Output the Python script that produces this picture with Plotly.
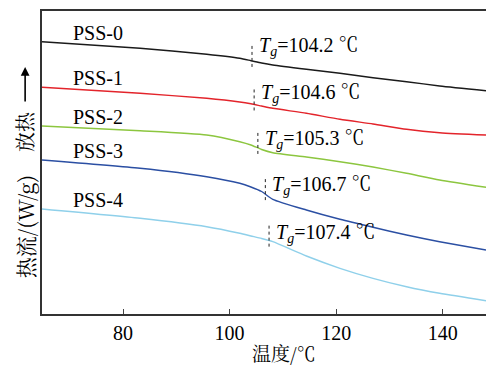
import numpy as np
import plotly.graph_objects as go

# Temperature grid (°C) shared by all DSC traces
temperature = [64.8, 83.2, 95.7, 101.9, 104.0, 106.0, 108.1, 114.4, 120.7, 126.9, 133.2, 139.4, 148.1]

# Heat flow (W/g, curves offset vertically for clarity)
pss0 = [2.723, 2.657, 2.597, 2.557, 2.533, 2.510, 2.490, 2.447, 2.407, 2.363, 2.323, 2.280, 2.233]
pss1 = [2.267, 2.207, 2.157, 2.120, 2.102, 2.080, 2.057, 2.007, 1.947, 1.900, 1.847, 1.813, 1.790]
pss2 = [1.880, 1.833, 1.790, 1.723, 1.690, 1.645, 1.613, 1.570, 1.523, 1.470, 1.407, 1.340, 1.267]
pss3 = [1.540, 1.457, 1.373, 1.307, 1.270, 1.225, 1.147, 1.040, 0.947, 0.867, 0.790, 0.723, 0.640]
pss4 = [1.050, 0.957, 0.873, 0.807, 0.780, 0.755, 0.723, 0.580, 0.457, 0.357, 0.273, 0.207, 0.133]

names = ["PSS-0", "PSS-1", "PSS-2", "PSS-3", "PSS-4"]
series = [pss0, pss1, pss2, pss3, pss4]
tg_values = [104.2, 104.6, 105.3, 106.7, 107.4]

colors = ["#1a1a1a", "#e3242b", "#8cc63f", "#2b4fa3", "#8fd0ea"]
tg_label_yshift = [14, 11, 8, 9, 7]   # px above the curve

x_ticks = [80, 100, 120, 140]
x_range = [64.8, 148.1]
y_range = [0, 3.03]

serif = "'Liberation Serif', 'Times New Roman', 'Noto Serif CJK SC', 'Noto Sans CJK SC', serif"
cjk = "'Noto Serif CJK SC', 'Noto Sans CJK SC', 'Liberation Serif', serif"

fig = go.Figure()
annotations = []
shapes = []

for name, ys, tg, col, dy in zip(names, series, tg_values, colors, tg_label_yshift):
    fig.add_trace(go.Scatter(
        x=temperature, y=ys, mode="lines", name=name,
        line=dict(color=col, width=1.4, shape="spline", smoothing=0.6),
        showlegend=False,
    ))
    # curve name above the left end
    annotations.append(dict(
        x=70.2, y=ys[0], xref="x", yref="y", text=name, showarrow=False,
        xanchor="left", yanchor="middle", yshift=9,
        font=dict(family=serif, size=20, color="black"),
    ))
    # glass transition marker
    y_tg = float(np.interp(tg, temperature, ys))
    shapes.append(dict(
        type="line", xref="x", yref="y", x0=tg, x1=tg,
        y0=y_tg - 0.06, y1=y_tg + 0.15,
        line=dict(color="#222222", width=1, dash="dot"),
    ))
    annotations.append(dict(
        x=tg, y=y_tg, xref="x", yref="y",
        text=f"<i>T</i><sub><i>g</i></sub>=<span>{tg:.1f} ℃</span>",
        showarrow=False, xanchor="left", yanchor="middle",
        xshift=5, yshift=dy,
        font=dict(family=serif, size=20, color="black"),
    ))

# axis titles
annotations.append(dict(
    x=0.545, y=-0.128, xref="paper", yref="paper", text="温度/℃",
    showarrow=False, xanchor="center", yanchor="middle",
    font=dict(family=cjk, size=19, color="black"),
))
annotations.append(dict(
    x=-0.038, y=0.287, xref="paper", yref="paper", text="热流/(W/g)",
    showarrow=False, textangle=-90, xanchor="center", yanchor="middle",
    font=dict(family=cjk, size=21, color="black"),
))
annotations.append(dict(
    x=-0.038, y=0.601, xref="paper", yref="paper", text="放热",
    showarrow=False, textangle=-90, xanchor="center", yanchor="middle",
    font=dict(family=cjk, size=20, color="black"),
))
# exothermic direction arrow
annotations.append(dict(
    x=-0.038, y=0.815, xref="paper", yref="paper", text="",
    showarrow=True, arrowhead=2, arrowsize=1.1, arrowwidth=1.6,
    arrowcolor="black", ax=0, ay=36, axref="pixel", ayref="pixel",
))

fig.update_layout(
    width=486, height=367,
    margin=dict(l=42, r=0, t=11, b=53),
    paper_bgcolor="white", plot_bgcolor="white",
    annotations=annotations, shapes=shapes,
    xaxis=dict(
        range=x_range, tickvals=x_ticks, ticks="inside", ticklen=5,
        tickcolor="#444444", tickwidth=1.2,
        showline=True, linecolor="#333333", linewidth=2, mirror=True,
        showgrid=False, zeroline=False,
        tickfont=dict(family=serif, size=20, color="black"),
    ),
    yaxis=dict(
        range=y_range, showticklabels=False, ticks="",
        showline=True, linecolor="#333333", linewidth=2,
        showgrid=False, zeroline=False,
    ),
)

fig.write_html("out.html")
